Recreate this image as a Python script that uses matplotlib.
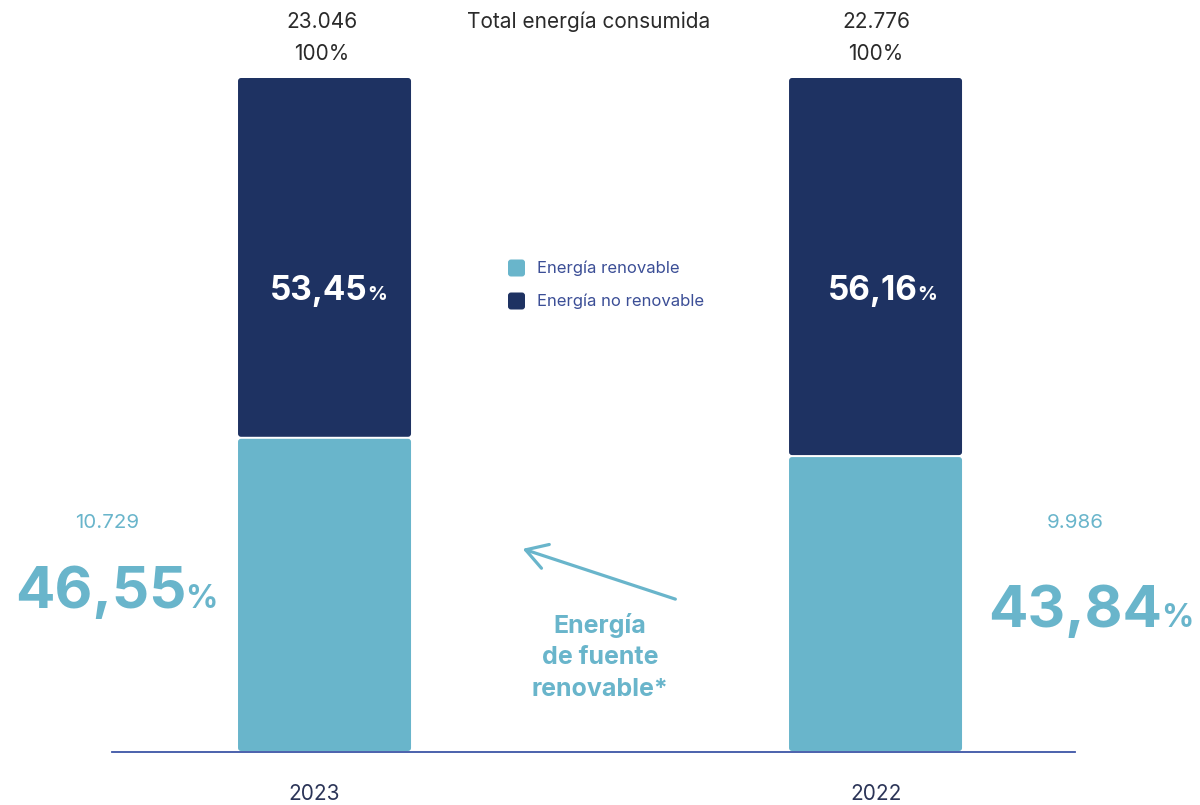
import matplotlib
matplotlib.use("Agg")
import matplotlib.pyplot as plt
from matplotlib.patches import FancyBboxPatch
import numpy as np

years = ["2023", "2022"]
renovable_pct = [46.55, 43.84]
no_renovable_pct = [53.45, 56.16]
totals = ["23.046", "22.776"]
renovable_abs = ["10.729", "9.986"]
renov_labels = ["46,55", "43,84"]
noren_labels = ["53,45", "56,16"]

C_LIGHT = "#69B5CB"
C_DARK = "#1E3262"
C_TEXT = "#2A2A2A"
C_LEG = "#3B4E96"
C_AXIS = "#3D55A6"
C_YEAR = "#2B3457"

plt.rcParams['font.family'] = ['Inter', 'DejaVu Sans']
BOLD = ['Inter', 'DejaVu Sans']

W, H = 1200, 805
fig = plt.figure(figsize=(W / 100, H / 100), dpi=100)
fig.patch.set_facecolor("white")

# axes: x from px 112 to 1075, y from px 77 (100%) to 752 (0%)
ax = fig.add_axes([112 / W, (H - 752) / H, (1075 - 112) / W, (752 - 77) / H])
xpos = np.arange(len(years))
ax.set_xlim(-0.3857, 1.362)
ax.set_ylim(0, 100)
ax.axis("off")

bw = 173 / 551
px_x = 1 / 551  # x data units per px
px_y = 100 / 675  # y data units per px
aspect = px_y / px_x

b1 = ax.bar(xpos, renovable_pct, width=bw, color=C_LIGHT)
b2 = ax.bar(xpos, no_renovable_pct, width=bw, bottom=renovable_pct, color=C_DARK)

for bars in (b1, b2):
    for p in bars:
        x0, y0 = p.get_x(), p.get_y()
        w, h = p.get_width(), p.get_height()
        col = p.get_facecolor()
        p.remove()
        gap = 1.0 * px_y
        fp = FancyBboxPatch((x0, y0 + gap), w, h - 2 * gap,
                            boxstyle=f"round,pad=0,rounding_size={3 * px_x}",
                            mutation_aspect=aspect, facecolor=col, edgecolor="none",
                            zorder=2)
        ax.add_patch(fp)

# baseline axis line
ax.plot([-0.3857, 1.362], [0, 0], color=C_AXIS, lw=1.3, zorder=3, clip_on=False)


def ptxt(x, y, s, **kw):
    fig.text(x / W, 1 - y / H, s, **kw)


# top labels
ptxt(322, 28, totals[0], ha="center", va="baseline", fontsize=15, color=C_TEXT)
ptxt(322, 60, "100%", ha="center", va="baseline", fontsize=15, color=C_TEXT)
ptxt(876, 28, totals[1], ha="center", va="baseline", fontsize=15, color=C_TEXT)
ptxt(876, 60, "100%", ha="center", va="baseline", fontsize=15, color=C_TEXT)
ptxt(589, 28, "Total energía consumida", ha="center", va="baseline", fontsize=15, color=C_TEXT)

# legend
for i, (lab, col) in enumerate([("Energía renovable", C_LIGHT), ("Energía no renovable", C_DARK)]):
    yc = 268 + i * 33
    sq = FancyBboxPatch(((508) / W, 1 - (yc + 8.5) / H), 17 / W, 17 / H,
                        boxstyle=f"round,pad=0,rounding_size={3 / W}",
                        mutation_aspect=W / H, transform=fig.transFigure,
                        facecolor=col, edgecolor="none")
    fig.patches.append(sq)
    ptxt(537, yc, lab, ha="left", va="center", fontsize=12, color=C_LEG)

# white labels inside dark segments
for xr, lab in [(368, noren_labels[0]), (918, noren_labels[1])]:
    ptxt(xr, 300, lab, ha="right", va="baseline", fontsize=24, fontweight="bold",
         color="white", family=BOLD)
    ptxt(xr - 1, 300, "%", ha="left", va="baseline", fontsize=14, fontweight="bold",
         color="white", family=BOLD)

# renewable labels outside
ptxt(107, 528, renovable_abs[0], ha="center", va="baseline", fontsize=14.8, color=C_LIGHT)
ptxt(1075, 528, renovable_abs[1], ha="center", va="baseline", fontsize=14.8, color=C_LIGHT)
for xr, yb, lab in [(186, 608, renov_labels[0]), (1162, 627, renov_labels[1])]:
    ptxt(xr, yb, lab, ha="right", va="baseline", fontsize=42, fontweight="bold",
         color=C_LIGHT, family=BOLD)
    ptxt(xr - 1, yb, "%", ha="left", va="baseline", fontsize=23, fontweight="bold",
         color=C_LIGHT, family=BOLD)

# annotation
ann_lines = ["Energía", "de fuente", "renovable*"]
for i, s in enumerate(ann_lines):
    ptxt(600, 625 + 32 * i, s, ha="center", va="center", fontsize=18, fontweight="bold",
         color=C_LIGHT, family=BOLD)

fig.add_artist(matplotlib.patches.FancyArrowPatch(
    (678 / W, 1 - 600 / H), (520 / W, 1 - 548 / H), transform=fig.transFigure,
    arrowstyle="->,head_length=10,head_width=6", mutation_scale=1.5,
    color=C_LIGHT, lw=2.3))

# years
ptxt(314, 800, years[0], ha="center", va="baseline", fontsize=15, color=C_YEAR)
ptxt(876, 800, years[1], ha="center", va="baseline", fontsize=15, color=C_YEAR)

fig.savefig("out.png", dpi=100, facecolor="white")
